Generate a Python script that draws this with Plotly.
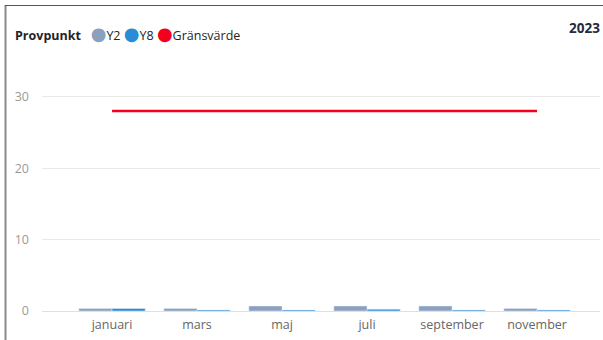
import plotly.graph_objects as go

# Monthly sampling results per measuring point, with the limit value
months = ["januari", "mars", "maj", "juli", "september", "november"]
y2_values = [0.35, 0.35, 0.7, 0.7, 0.7, 0.35]
y8_values = [0.35, 0.15, 0.15, 0.25, 0.15, 0.15]
limit_values = [28, 28, 28, 28, 28, 28]
year_label = "2023"

COL_Y2 = "#8AA0BE"
COL_Y8 = "#2B8CD6"
COL_LIMIT = "#F3001E"

W, H = 603, 340
ML, MR, MT, MB = 42, 3, 61, 29
PW, PH = W - ML - MR, H - MT - MB


def px_x(p):
    return (p - ML) / PW


def px_y(p):
    return (H - p - MB) / PH


fig = go.Figure()
fig.add_trace(go.Bar(x=months, y=y2_values, name="Y2", marker_color=COL_Y2,
                     showlegend=False))
fig.add_trace(go.Bar(x=months, y=y8_values, name="Y8", marker_color=COL_Y8,
                     showlegend=False))
fig.add_trace(go.Scatter(x=months, y=limit_values, name="Gränsvärde",
                         mode="lines", line=dict(color=COL_LIMIT, width=2.5),
                         showlegend=False))

font_family = "'Open Sans', 'DejaVu Sans', sans-serif"

legend_text = (
    "<b>Provpunkt</b>   "
    f"<span style='color:{COL_Y2};font-size:18px'>●</span>Y2 "
    f"<span style='color:{COL_Y8};font-size:18px'>●</span>Y8 "
    f"<span style='color:{COL_LIMIT};font-size:18px'>●</span>Gränsvärde"
)

fig.update_layout(
    width=W, height=H,
    margin=dict(l=ML, r=MR, t=MT, b=MB),
    paper_bgcolor="white", plot_bgcolor="white",
    barmode="group", bargap=0.22, bargroupgap=0,
    font=dict(family=font_family, size=12, color="#666666"),
    annotations=[
        dict(text=legend_text, x=px_x(13), y=px_y(33), xref="paper", yref="paper",
             xanchor="left", yanchor="middle", showarrow=False,
             font=dict(family=font_family, size=12.5, color="#252423")),
        dict(text=f"<b>{year_label}</b>", x=px_x(602), y=px_y(28),
             xref="paper", yref="paper", xanchor="right", yanchor="middle",
             showarrow=False, font=dict(family=font_family, size=13.5, color="#252A40")),
    ],
    shapes=[
        dict(type="line", xref="paper", yref="paper",
             x0=px_x(5.5), x1=px_x(5.5), y0=px_y(5), y1=px_y(340),
             line=dict(color="#8A8A8A", width=2)),
        dict(type="line", xref="paper", yref="paper",
             x0=px_x(5), x1=px_x(603), y0=px_y(5.5), y1=px_y(5.5),
             line=dict(color="#555555", width=1)),
    ],
)

fig.update_xaxes(range=[-0.824, 5.741], showgrid=False, ticks="",
                 tickfont=dict(color="#666666", size=12.5), ticklabelstandoff=4,
                 showline=False, zeroline=False)
fig.update_yaxes(range=[0, 35], tickvals=[0, 10, 20, 30], showgrid=True,
                 gridcolor="#E9E9E9", gridwidth=1, zeroline=True,
                 zerolinecolor="#E0E0E0", zerolinewidth=1, ticks="",
                 tickfont=dict(color="#999999", size=12.5), ticklabelstandoff=12,
                 showline=False)

fig.write_html("out.html")
